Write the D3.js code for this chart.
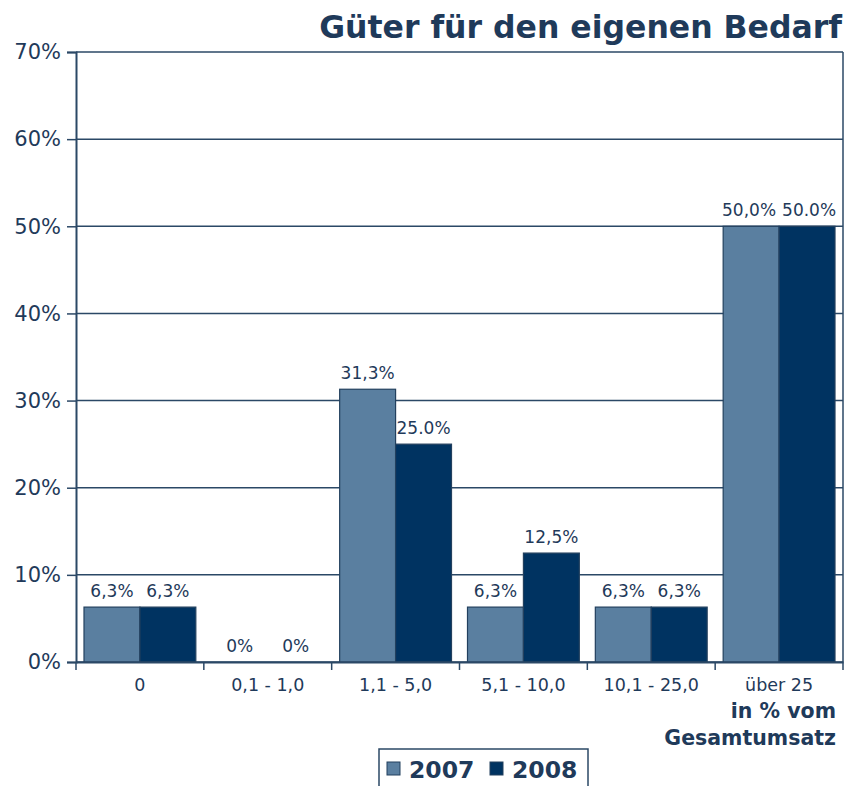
<!DOCTYPE html>
<html>
<head>
<meta charset="utf-8">
<script src="https://cdn.jsdelivr.net/npm/d3@7"></script>
<style>
  body { margin:0; background:#fff; }
  text { font-family:"DejaVu Sans", Verdana, sans-serif; fill:#1f3a5a; }
</style>
</head>
<body>
<script>
// chart data
var categories = ["0", "0,1 - 1,0", "1,1 - 5,0", "5,1 - 10,0", "10,1 - 25,0", "über 25"];
var years = ["2007", "2008"];
var values2007 = [6.3, 0, 31.3, 6.3, 6.3, 50.0];
var values2008 = [6.3, 0, 25.0, 12.5, 6.3, 50.0];
var labels2007 = ["6,3%", "0%", "31,3%", "6,3%", "6,3%", "50,0%"];
var labels2008 = ["6,3%", "0%", "25.0%", "12,5%", "6,3%", "50.0%"];
var yTicks = [0, 10, 20, 30, 40, 50, 60, 70];

var W = 845, H = 786;
var m = {left:76, right:843, top:52, bottom:662};
var colors = {"2007":"#5a7fa0", "2008":"#003361"};
var lineColor = "#2b4866";

var svg = d3.select("body").append("svg").attr("width", W).attr("height", H);

var x = d3.scaleBand().domain(categories).range([m.left, m.right]).paddingInner(0).paddingOuter(0);
var x1 = d3.scaleBand().domain(years).range([0, x.bandwidth()]).paddingOuter(0.143).paddingInner(0);
var y = d3.scaleLinear().domain([0, 70]).range([m.bottom, m.top]);

// gridlines
svg.append("g").selectAll("line").data(yTicks).enter().append("line")
   .attr("x1", m.left).attr("x2", m.right)
   .attr("y1", function(d){ return y(d); }).attr("y2", function(d){ return y(d); })
   .attr("stroke", lineColor).attr("stroke-width", 1.5);

// right border
svg.append("line").attr("x1", m.right).attr("x2", m.right).attr("y1", m.top).attr("y2", m.bottom)
   .attr("stroke", lineColor).attr("stroke-width", 1.5);

// bars
var rows = categories.map(function(c, i){
   return {cat:c, vals:[{year:"2007", v:values2007[i], lab:labels2007[i]},
                        {year:"2008", v:values2008[i], lab:labels2008[i]}]};
});
var groups = svg.append("g").selectAll("g").data(rows).enter().append("g")
   .attr("transform", function(d){ return "translate(" + x(d.cat) + ",0)"; });

groups.selectAll("rect").data(function(d){ return d.vals; }).enter().append("rect")
   .attr("x", function(d){ return x1(d.year); })
   .attr("width", x1.bandwidth())
   .attr("y", function(d){ return y(d.v); })
   .attr("height", function(d){ return y(0) - y(d.v); })
   .attr("fill", function(d){ return colors[d.year]; })
   .attr("stroke", "#23405e").attr("stroke-width", 1.2);

groups.selectAll("text.val").data(function(d){ return d.vals; }).enter().append("text")
   .attr("class", "val")
   .attr("x", function(d){ return x1(d.year) + x1.bandwidth()/2; })
   .attr("y", function(d){ return y(d.v) - 10; })
   .attr("text-anchor", "middle")
   .style("font-size", "17px")
   .text(function(d){ return d.lab; });

// push apart value labels of a group that touch each other
groups.each(function(){
   var t = d3.select(this).selectAll("text.val").nodes();
   var a = t[0].getBBox(), b = t[1].getBBox();
   if (Math.abs(a.y - b.y) < a.height) {
      var over = (a.x + a.width) - b.x + 6;
      if (over > 0) {
         d3.select(t[0]).attr("x", +t[0].getAttribute("x") - over/2);
         d3.select(t[1]).attr("x", +t[1].getAttribute("x") + over/2);
      }
   }
});

// y axis
var yAxis = svg.append("g").attr("transform", "translate(" + m.left + ",0)")
   .call(d3.axisLeft(y).tickValues(yTicks).tickSize(9).tickPadding(6)
           .tickFormat(function(d){ return d + "%"; }));
yAxis.select(".domain").attr("stroke", lineColor).attr("stroke-width", 2);
yAxis.selectAll(".tick line").attr("stroke", lineColor).attr("stroke-width", 1.5);
yAxis.selectAll(".tick text").style("font-size", "21px").style("font-family", "DejaVu Sans, sans-serif").attr("fill", "#1f3a5a");

// x axis
var xAxis = svg.append("g").attr("transform", "translate(0," + m.bottom + ")")
   .call(d3.axisBottom(x).tickSize(0).tickPadding(17));
xAxis.select(".domain").attr("stroke", lineColor).attr("stroke-width", 2);
xAxis.selectAll(".tick text").style("font-size", "17.5px").style("font-family", "DejaVu Sans, sans-serif").attr("fill", "#1f3a5a");
// category separator ticks
var seps = categories.map(function(c){ return x(c); }).concat([m.right]);
svg.append("g").selectAll("line").data(seps).enter().append("line")
   .attr("x1", function(d){ return d; }).attr("x2", function(d){ return d; })
   .attr("y1", m.bottom).attr("y2", m.bottom + 8)
   .attr("stroke", lineColor).attr("stroke-width", 1.5);

// title
svg.append("text").attr("x", 842).attr("y", 38).attr("text-anchor", "end")
   .style("font-size", "31.5px").style("font-weight", "bold")
   .text("Güter für den eigenen Bedarf");

// x axis caption
svg.append("text").attr("x", 836).attr("y", 718).attr("text-anchor", "end")
   .style("font-size", "20.5px").style("font-weight", "bold").text("in % vom");
svg.append("text").attr("x", 836).attr("y", 745).attr("text-anchor", "end")
   .style("font-size", "20.5px").style("font-weight", "bold").text("Gesamtumsatz");

// legend
var leg = svg.append("g");
leg.append("rect").attr("x", 379).attr("y", 749).attr("width", 209).attr("height", 45)
   .attr("fill", "#fff").attr("stroke", lineColor).attr("stroke-width", 1.5);
var legX = [387, 490];
years.forEach(function(yr, i){
   leg.append("rect").attr("x", legX[i]).attr("y", 762).attr("width", 13).attr("height", 13)
      .attr("fill", colors[yr]).attr("stroke", "#23405e").attr("stroke-width", 1);
   leg.append("text").attr("x", legX[i] + 22).attr("y", 778)
      .style("font-size", "23.5px").style("font-weight", "bold").text(yr);
});
</script>
</body>
</html>
